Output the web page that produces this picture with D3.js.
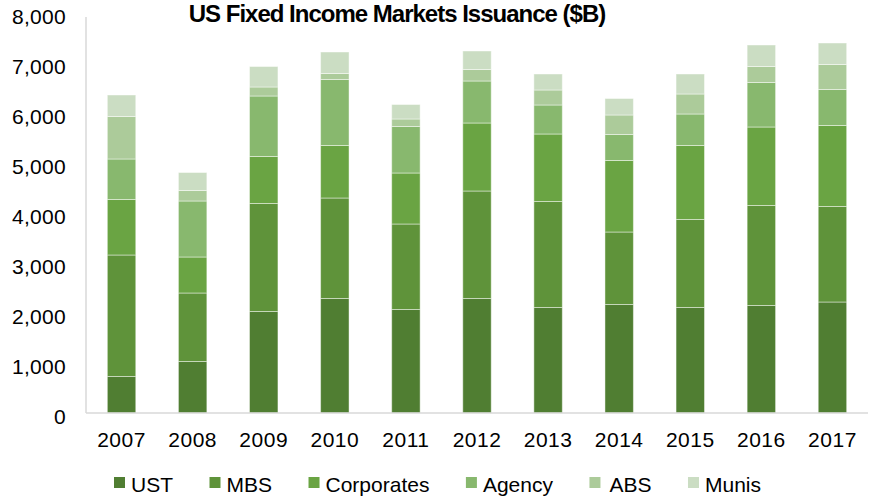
<!DOCTYPE html>
<html>
<head>
<meta charset="utf-8">
<script src="https://cdn.jsdelivr.net/npm/d3@7"></script>
<style>
  body { margin: 0; background: #fff; }
  svg text { font-family: "Liberation Sans", Arial, sans-serif; fill: #000; }
</style>
</head>
<body>
<div id="chart"></div>
<script>
// Data ($B)
const years = ['2007', '2008', '2009', '2010', '2011', '2012', '2013', '2014', '2015', '2016', '2017'];
const seriesNames = ['UST', 'MBS', 'Corporates', 'Agency', 'ABS', 'Munis'];
const ust        = [730, 1030, 2030, 2290, 2070, 2290, 2110, 2170, 2110, 2150, 2220];
const mbs        = [2430, 1370, 2160, 2010, 1710, 2150, 2120, 1450, 1760, 2000, 1910];
const corporates = [1110, 720, 940, 1050, 1020, 1360, 1350, 1430, 1480, 1570, 1620];
const agency     = [810, 1120, 1210, 1320, 930, 840, 580, 520, 630, 890, 720];
const abs        = [850, 210, 180, 120, 150, 230, 300, 390, 400, 320, 500];
const munis      = [430, 360, 410, 430, 290, 370, 320, 330, 400, 430, 430];
const yTicks = [0, 1000, 2000, 3000, 4000, 5000, 6000, 7000, 8000];
const colors = ['#507e32', '#5f933a', '#6aa443', '#88b86e', '#accb9a', '#cbddc3'];

const width = 874;
const height = 499;

// build rows for the stack
const seriesValues = [ust, mbs, corporates, agency, abs, munis];
const rows = years.map((y, i) => {
    let row = { year: y };
    seriesNames.forEach((s, k) => { row[s] = seriesValues[k][i]; });
    return row;
});

const svg = d3.select('#chart').append('svg')
    .attr('width', width)
    .attr('height', height);

// Scales
let xScale = d3.scaleBand()
    .domain(years)
    .range([86, 868])
    .paddingInner(0.6)
    .paddingOuter(0.3);

let yScale = d3.scaleLinear()
    .domain([0, 8000])
    .range([413, 13]);

let color = d3.scaleOrdinal(seriesNames, colors);

let stacked = d3.stack().keys(seriesNames)(rows);

// Bars
svg.append('g')
    .selectAll('g')
    .data(stacked).enter()
    .append('g')
    .attr('fill', d => color(d.key))
    .selectAll('rect')
    .data(d => d).enter()
    .append('rect')
    .attr('x', d => xScale(d.data.year))
    .attr('width', xScale.bandwidth())
    .attr('y', d => yScale(d[1]))
    .attr('height', d => yScale(d[0]) - yScale(d[1]))
    .attr('stroke', '#ffffff')
    .attr('stroke-opacity', 0.45)
    .attr('stroke-width', 1);

// Y axis
let yAxis = d3.axisLeft(yScale)
    .tickValues(yTicks)
    .tickSize(0)
    .tickPadding(20)
    .tickFormat(d3.format(','));

let yG = svg.append('g')
    .attr('transform', 'translate(86,0)')
    .call(yAxis);
yG.select('.domain').attr('stroke', '#d9d9d9').attr('stroke-width', 1.5)
    .attr('d', `M0,${yScale(8000) + 4}V${yScale(0)}`);
yG.selectAll('text')
    .attr('font-size', 21)
    .attr('letter-spacing', 0.3)
    .attr('dy', '0.5em');

// X axis
let xAxis = d3.axisBottom(xScale)
    .tickSize(0)
    .tickPadding(19);

let xG = svg.append('g')
    .attr('transform', `translate(0,${yScale(0)})`)
    .call(xAxis);
xG.select('.domain').attr('stroke', '#d9d9d9').attr('stroke-width', 1.5)
    .attr('d', 'M86,0H868');
xG.selectAll('text')
    .attr('font-size', 21)
    .attr('letter-spacing', 0.5);

// Title
svg.append('text')
    .attr('x', 397)
    .attr('y', 22)
    .attr('text-anchor', 'middle')
    .attr('font-size', 24)
    .attr('font-weight', 'bold')
    .attr('letter-spacing', -1)
    .text('US Fixed Income Markets Issuance ($B)');

// Legend
let legend = svg.append('g').attr('transform', 'translate(114,477)');
let lx = 0;
seriesNames.forEach((s, i) => {
    let item = legend.append('g').attr('transform', `translate(${lx},0)`);
    item.append('rect')
        .attr('width', 11)
        .attr('height', 11)
        .attr('fill', color(s));
    let off = s === 'ABS' ? 20 : 17;
    let t = item.append('text')
        .attr('x', off)
        .attr('y', 15)
        .attr('font-size', 21)
        .text(s);
    lx += off + t.node().getComputedTextLength() + 36.5;
});
</script>
</body>
</html>
